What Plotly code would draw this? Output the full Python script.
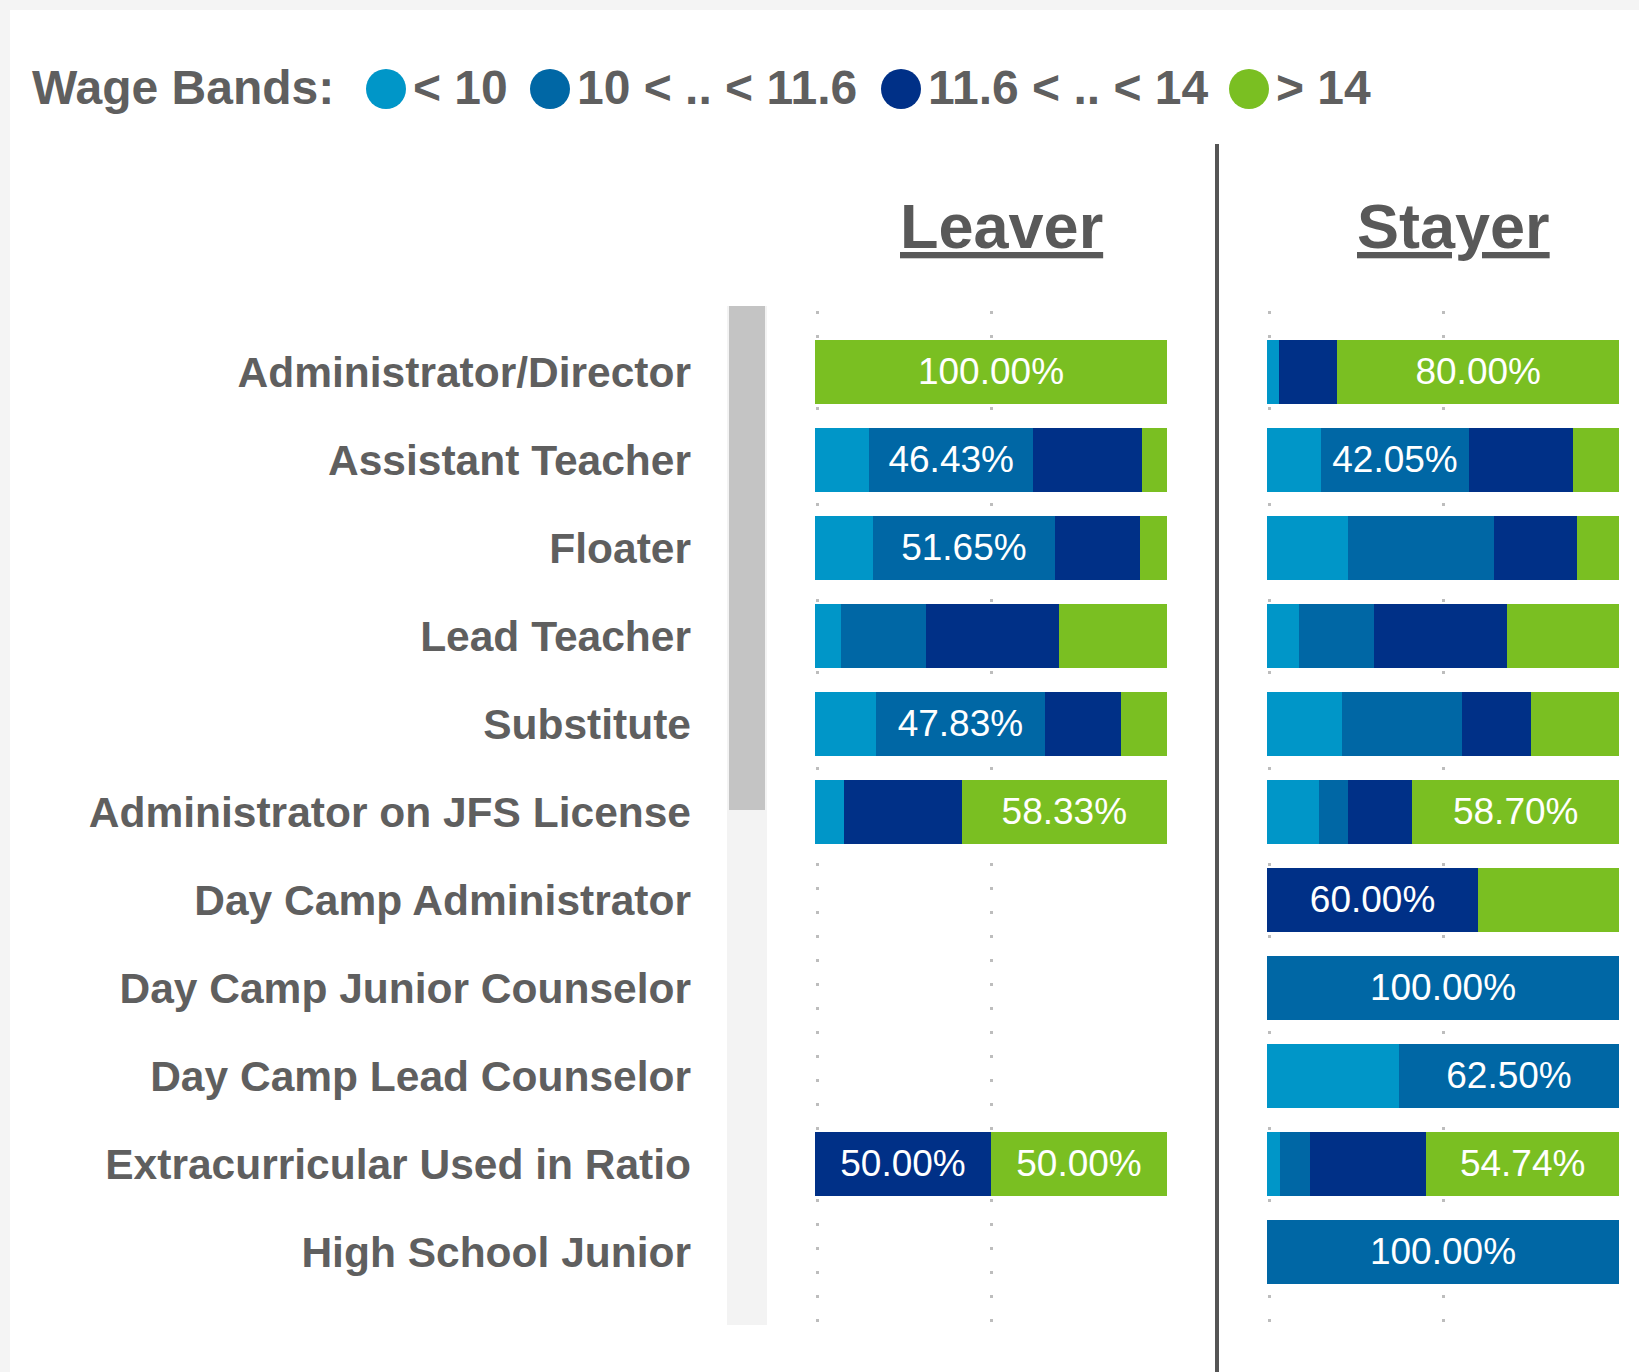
import plotly.graph_objects as go

W, H = 1639, 1372

categories = ["Administrator/Director", "Assistant Teacher", "Floater", "Lead Teacher",
              "Substitute", "Administrator on JFS License", "Day Camp Administrator",
              "Day Camp Junior Counselor", "Day Camp Lead Counselor",
              "Extracurricular Used in Ratio", "High School Junior"]
bands = ["< 10", "10 < .. < 11.6", "11.6 < .. < 14", "> 14"]
band_colors = ["#0096C8", "#0067A5", "#003087", "#7ABF22"]
panels = ["Leaver", "Stayer"]

leaver_lt10 = [None, 15.48, 16.48, 7.39, 17.39, 8.33, None, None, None, None, None]
leaver_10_116 = [None, 46.43, 51.65, 24.15, 47.83, None, None, None, None, None, None]
leaver_116_14 = [None, 30.95, 24.18, 37.78, 21.74, 33.33, None, None, None, 50.00, None]
leaver_gt14 = [100.00, 7.14, 7.69, 30.68, 13.04, 58.33, None, None, None, 50.00, None]

stayer_lt10 = [3.33, 15.34, 23.01, 9.09, 21.31, 14.80, None, None, 37.50, 3.68, None]
stayer_10_116 = [None, 42.05, 41.48, 21.31, 34.09, 8.30, None, 100.00, 62.50, 8.42, 100.00]
stayer_116_14 = [16.67, 29.55, 23.58, 37.78, 19.60, 18.20, 60.00, None, None, 33.16, None]
stayer_gt14 = [80.00, 13.07, 11.93, 31.82, 25.00, 58.70, 40.00, None, None, 54.74, None]

label_threshold = 42.0

FONT = "Liberation Sans, Arial, Helvetica, sans-serif"
TXT = "#5f5f5f"


def px_x(x):
    return x / W


def px_y(y):
    return 1 - y / H


def labels(vals):
    return [f"{v:.2f}%" if (v is not None and v >= label_threshold) else "" for v in vals]


fig = go.Figure()

series = {
    "x": [leaver_lt10, leaver_10_116, leaver_116_14, leaver_gt14],
    "x2": [stayer_lt10, stayer_10_116, stayer_116_14, stayer_gt14],
}
for xa, ya in (("x", "y"), ("x2", "y2")):
    for name, color, vals in zip(bands, band_colors, series[xa]):
        fig.add_trace(go.Bar(
            y=categories, x=vals, orientation="h", name=name,
            marker=dict(color=color, line=dict(width=0)),
            text=labels(vals), textposition="inside", insidetextanchor="middle",
            textangle=0, constraintext="none",
            textfont=dict(family=FONT, size=37, color="white"),
            xaxis=xa, yaxis=ya, showlegend=False, hoverinfo="skip",
        ))

ydom = [px_y(1325), px_y(311)]
yrange = [10.83, -0.693]
xcommon = dict(range=[0, 100], showticklabels=False, zeroline=False, showline=False,
               showgrid=True, tickvals=[0.6, 50], gridcolor="#bdbdbd", gridwidth=3,
               griddash="3px,21px", fixedrange=True)

fig.update_layout(
    width=W, height=H,
    margin=dict(l=0, r=0, t=0, b=0),
    paper_bgcolor="#f4f4f4", plot_bgcolor="rgba(0,0,0,0)",
    barmode="stack", bargap=0.27,
    xaxis=dict(domain=[px_x(815), px_x(1167)], anchor="y", **xcommon),
    xaxis2=dict(domain=[px_x(1267), px_x(1619)], anchor="y2", **xcommon),
    yaxis=dict(domain=ydom, anchor="x", type="category", categoryorder="array",
               categoryarray=categories, range=yrange, showgrid=False, zeroline=False,
               showline=False, ticks="", ticklabelstandoff=123,
               tickfont=dict(family=FONT, size=42.5, color=TXT, weight="bold")),
    yaxis2=dict(domain=ydom, anchor="x2", matches="y", type="category",
                categoryorder="array", categoryarray=categories,
                showticklabels=False, showgrid=False, zeroline=False, showline=False),
    font=dict(family=FONT, color=TXT),
)

shapes = []
# white card
shapes.append(dict(type="rect", xref="paper", yref="paper", layer="below",
                   x0=px_x(10), x1=1.0, y0=0.0, y1=px_y(10),
                   fillcolor="white", line=dict(width=0)))
# scrollbar track and thumb
shapes.append(dict(type="rect", xref="paper", yref="paper", layer="below",
                   x0=px_x(727), x1=px_x(767), y0=px_y(1325), y1=px_y(306),
                   fillcolor="#f3f3f3", line=dict(width=0)))
shapes.append(dict(type="rect", xref="paper", yref="paper", layer="below",
                   x0=px_x(729), x1=px_x(765), y0=px_y(810), y1=px_y(306),
                   fillcolor="#c4c4c4", line=dict(width=0)))
# separator line
shapes.append(dict(type="line", xref="paper", yref="paper",
                   x0=px_x(1217), x1=px_x(1217), y0=0.0, y1=px_y(144),
                   line=dict(color="#555555", width=4)))

annotations = []
# legend
annotations.append(dict(text="<b>Wage Bands:</b>", xref="paper", yref="paper",
                        x=px_x(30), y=px_y(88), xanchor="left", yanchor="middle",
                        showarrow=False, font=dict(family=FONT, size=48, color=TXT)))
circle_cx = [386, 550, 901, 1249]
for name, color, cx in zip(bands, band_colors, circle_cx):
    shapes.append(dict(type="circle", xref="paper", yref="paper",
                       x0=px_x(cx - 20), x1=px_x(cx + 20), y0=px_y(109), y1=px_y(69),
                       fillcolor=color, line=dict(width=0)))
    annotations.append(dict(text="<b>" + name.replace("<", "&lt;").replace(">", "&gt;") + "</b>",
                            xref="paper", yref="paper",
                            x=px_x(cx + 25), y=px_y(88), xanchor="left", yanchor="middle",
                            showarrow=False, font=dict(family=FONT, size=48, color=TXT)))
# panel titles
for title, cx in zip(panels, [1001, 1453]):
    annotations.append(dict(text="<b><u>" + title + "</u></b>", xref="paper", yref="paper",
                            x=px_x(cx), y=px_y(226), xanchor="center", yanchor="middle",
                            showarrow=False, font=dict(family=FONT, size=63, color="#595959")))

fig.update_layout(shapes=shapes, annotations=annotations)

fig.write_html("out.html")
